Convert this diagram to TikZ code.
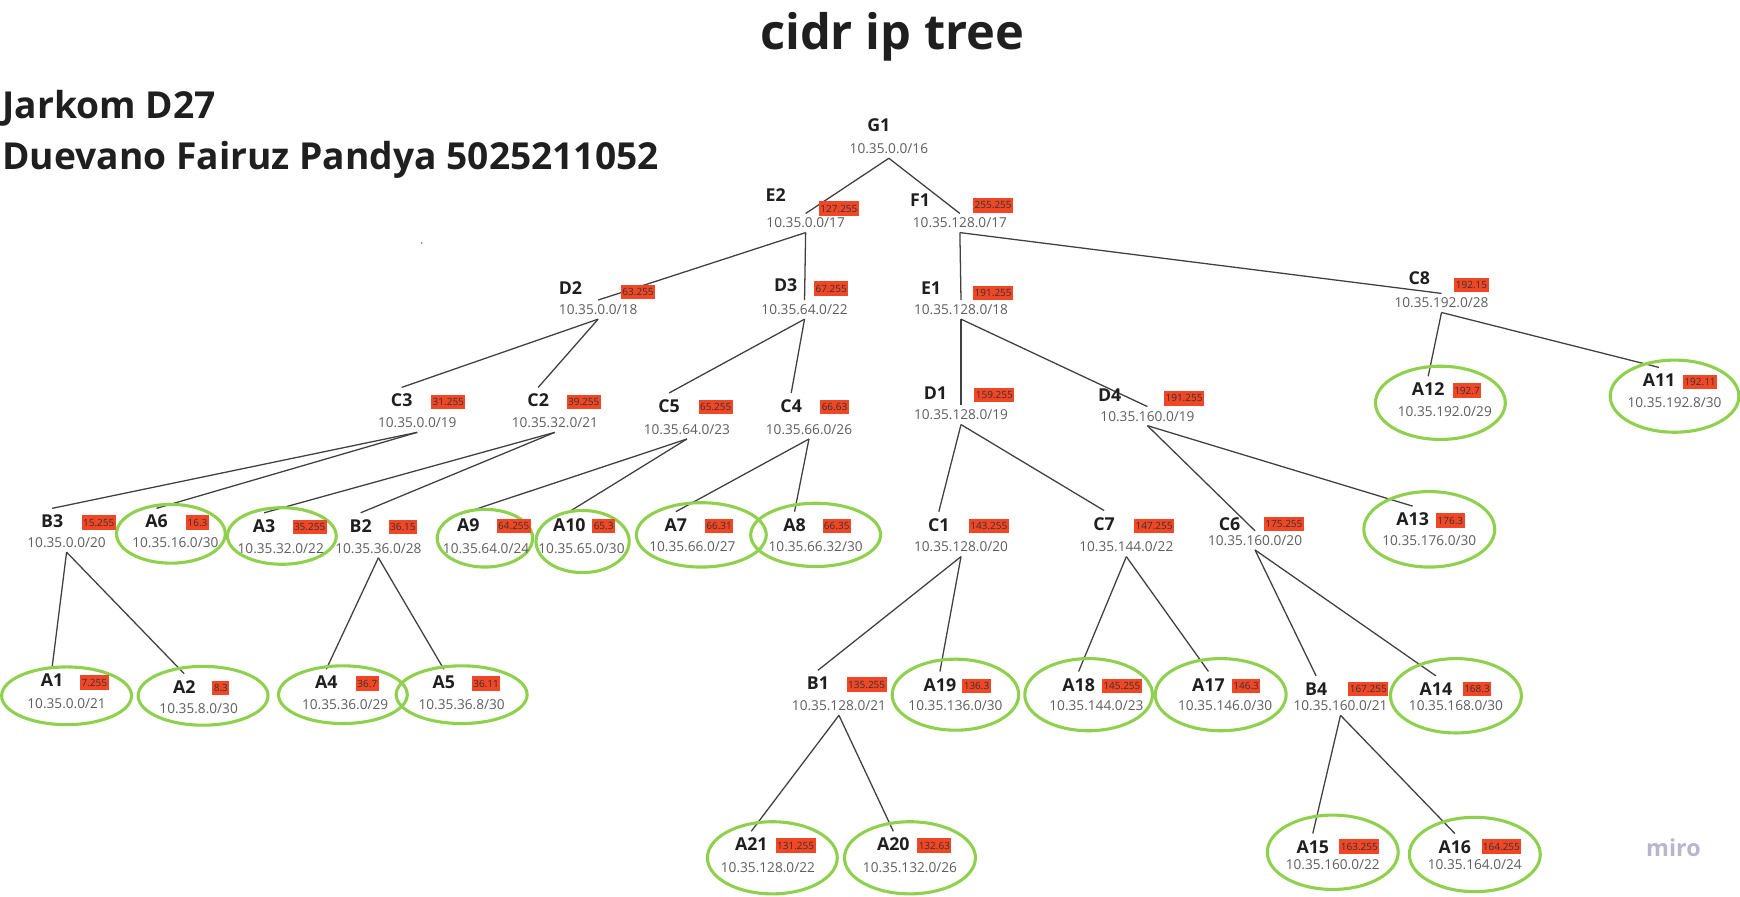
\documentclass[tikz,border=0pt]{standalone}
\usepackage{fontspec}
\setmainfont{Open Sans}
\usetikzlibrary{shapes.geometric}
\definecolor{nmcol}{HTML}{1F1F1F}
\definecolor{ipcol}{HTML}{5E5E5E}
\definecolor{redbox}{HTML}{F24726}
\definecolor{leafgreen}{HTML}{8FD14F}
\definecolor{edgecol}{HTML}{404040}
\definecolor{mirocol}{HTML}{B8B6CC}
\definecolor{dotblue}{HTML}{4262FF}
\pgfdeclarelayer{bg}
\pgfdeclarelayer{edges}
\pgfsetlayers{bg,edges,main}
\tikzset{
  nm/.style={font=\fontsize{16}{16}\selectfont\bfseries, text=nmcol, inner xsep=1pt, inner ysep=6pt, text height=11.4pt, text depth=0pt},
  ipt/.style={font=\fontsize{12.3}{13}\selectfont, text=ipcol, inner xsep=1pt, inner ysep=4pt, text height=8.8pt, text depth=0pt},
  rb/.style={fill=redbox, font=\fontsize{9}{9}\selectfont, text=black!80, inner xsep=1.3pt, inner ysep=0pt, minimum height=13pt, text height=6.5pt, text depth=0pt},
  leaf/.style={ellipse, draw=leafgreen, line width=2.8pt, inner sep=0pt},
  link/.style={draw=edgecol, line width=1.15pt},
  ttl/.style={font=\fontsize{44}{44}\selectfont\bfseries, text=nmcol, inner sep=0pt},
  sub/.style={font=\fontsize{33.5}{34}\selectfont\bfseries, text=nmcol, inner sep=0pt, anchor=west}
}
\begin{document}
\begin{tikzpicture}[x=1pt,y=-1pt]
\useasboundingbox (0,0) rectangle (1568,808.3);
\begin{pgfonlayer}{bg}
\fill[white] (0,0) rectangle (1568,808.3);
\end{pgfonlayer}

% titles
\node[ttl] (title) at (804,33) {cidr ip tree};
\node[sub] (jarkom) at (2,98) {Jarkom D27};
\node[sub] (author) at (2,144) {Duevano Fairuz Pandya 5025211052};
\fill[dotblue] (380,219) circle (0.8);

% leaf ellipses
\node[leaf, minimum width=98pt, minimum height=53pt] (A6e) at (154,481) {};
\node[leaf, minimum width=98pt, minimum height=51pt] (A3e) at (254,483) {};
\node[leaf, minimum width=86pt, minimum height=52pt] (A9e) at (437,485) {};
\node[leaf, minimum width=84pt, minimum height=56pt] (A10e) at (525,488) {};
\node[leaf, minimum width=117pt, minimum height=58pt] (A7e) at (632,482) {};
\node[leaf, minimum width=117pt, minimum height=57pt] (A8e) at (735,482) {};
\node[leaf, minimum width=117pt, minimum height=66pt] (A12e) at (1298,363) {};
\node[leaf, minimum width=116pt, minimum height=65pt] (A11e) at (1509,357) {};
\node[leaf, minimum width=118pt, minimum height=68pt] (A13e) at (1288,477) {};
\node[leaf, minimum width=117pt, minimum height=52pt] (A1e) at (60,627) {};
\node[leaf, minimum width=117pt, minimum height=53pt] (A2e) at (183,627) {};
\node[leaf, minimum width=116pt, minimum height=52pt] (A4e) at (309,626) {};
\node[leaf, minimum width=118pt, minimum height=52pt] (A5e) at (416,626) {};
\node[leaf, minimum width=114pt, minimum height=64pt] (A19e) at (861,626) {};
\node[leaf, minimum width=115pt, minimum height=65pt] (A18e) at (981,626) {};
\node[leaf, minimum width=118pt, minimum height=65pt] (A17e) at (1100,626) {};
\node[leaf, minimum width=118pt, minimum height=67pt] (A14e) at (1312,627) {};
\node[leaf, minimum width=117pt, minimum height=65pt] (A21e) at (696,773) {};
\node[leaf, minimum width=118pt, minimum height=65pt] (A20e) at (820,773) {};
\node[leaf, minimum width=118pt, minimum height=67pt] (A15e) at (1201,768) {};
\node[leaf, minimum width=118pt, minimum height=67pt] (A16e) at (1329,770) {};

% internal nodes
\node[nm] (G1) at (792,113) {G1};
\node[ipt] (G1i) at (801,134) {10.35.0.0/16};

\node[nm] (E2) at (699,176) {E2};
\node[rb] (E2r) at (756,188) {127.255};
\node[ipt] (E2i) at (726,201) {10.35.0.0/17};

\node[nm] (F1) at (829,180) {F1};
\node[rb] (F1r) at (895,185) {255.255};
\node[ipt] (F1i) at (865,201) {10.35.128.0/17};

\node[nm] (D2) at (514,260) {D2};
\node[rb] (D2r) at (575,263) {63.255};
\node[ipt] (D2i) at (539,279) {10.35.0.0/18};

\node[nm] (D3) at (708,257) {D3};
\node[rb] (D3r) at (749,260) {67.255};
\node[ipt] (D3i) at (725,279) {10.35.64.0/22};

\node[nm] (E1) at (839,260) {E1};
\node[rb] (E1r) at (895,264) {191.255};
\node[ipt] (E1i) at (866,279) {10.35.128.0/18};

\node[nm] (C8) at (1279,251) {C8};
\node[rb] (C8r) at (1326,257) {192.15};
\node[ipt] (C8i) at (1299,273) {10.35.192.0/28};

\node[nm] (C3) at (362,361) {C3};
\node[rb] (C3r) at (404,362) {31.255};
\node[ipt] (C3i) at (376,381) {10.35.0.0/19};

\node[nm] (C2) at (485,361) {C2};
\node[rb] (C2r) at (526,362) {39.255};
\node[ipt] (C2i) at (500,381) {10.35.32.0/21};

\node[nm] (C5) at (603,366) {C5};
\node[rb] (C5r) at (645,367) {65.255};
\node[ipt] (C5i) at (619,387) {10.35.64.0/23};

\node[nm] (C4) at (713,366) {C4};
\node[rb] (C4r) at (752,367) {66.63};
\node[ipt] (C4i) at (729,387) {10.35.66.0/26};

\node[nm] (D1) at (843,354) {D1};
\node[rb] (D1r) at (896,356) {159.255};
\node[ipt] (D1i) at (866,374) {10.35.128.0/19};

\node[nm] (D4) at (1000,356) {D4};
\node[rb] (D4r) at (1067,359) {191.255};
\node[ipt] (D4i) at (1034,375) {10.35.160.0/19};

\node[nm] (B3) at (47,470) {B3};
\node[rb] (B3r) at (89,471) {15.255};
\node[ipt] (B3i) at (60,489) {10.35.0.0/20};

\node[nm] (B2) at (325,474) {B2};
\node[rb] (B2r) at (363,475) {36.15};
\node[ipt] (B2i) at (341,494) {10.35.36.0/28};

\node[nm] (C1) at (846,473) {C1};
\node[rb] (C1r) at (891,474) {143.255};
\node[ipt] (C1i) at (866,493) {10.35.128.0/20};

\node[nm] (C7) at (995,472) {C7};
\node[rb] (C7r) at (1040,474) {147.255};
\node[ipt] (C7i) at (1015,493) {10.35.144.0/22};

\node[nm] (C6) at (1108,472) {C6};
\node[rb] (C6r) at (1157,472) {175.255};
\node[ipt] (C6i) at (1131,487) {10.35.160.0/20};

\node[nm] (B1) at (737,616) {B1};
\node[rb] (B1r) at (781,617) {135.255};
\node[ipt] (B1i) at (756,636) {10.35.128.0/21};

\node[nm] (B4) at (1186,621) {B4};
\node[rb] (B4r) at (1233,621) {167.255};
\node[ipt] (B4i) at (1208,636) {10.35.160.0/21};

% leaf texts
\node[nm] (A6) at (141,470) {A6};
\node[rb] (A6r) at (178,471) {16.3};
\node[ipt] (A6i) at (158,489) {10.35.16.0/30};

\node[nm] (A3) at (238,474) {A3};
\node[rb] (A3r) at (279,475) {35.255};
\node[ipt] (A3i) at (253,494) {10.35.32.0/22};

\node[nm] (A9) at (422,473) {A9};
\node[rb] (A9r) at (463,474) {64.255};
\node[ipt] (A9i) at (438,494) {10.35.64.0/24};

\node[nm] (A10) at (513,473) {A10};
\node[rb] (A10r) at (544,474) {65.3};
\node[ipt] (A10i) at (524,494) {10.35.65.0/30};

\node[nm] (A7) at (609,473) {A7};
\node[rb] (A7r) at (648,474) {66.31};
\node[ipt] (A7i) at (624,493) {10.35.66.0/27};

\node[nm] (A8) at (716,473) {A8};
\node[rb] (A8r) at (754,474) {66.35};
\node[ipt] (A8i) at (735,493) {10.35.66.32/30};

\node[nm] (A12) at (1287,351) {A12};
\node[rb] (A12r) at (1322,352) {192.7};
\node[ipt] (A12i) at (1302,371) {10.35.192.0/29};

\node[nm] (A11) at (1495,343) {A11};
\node[rb] (A11r) at (1532,344) {192.11};
\node[ipt] (A11i) at (1509,363) {10.35.192.8/30};

\node[nm] (A13) at (1273,468) {A13};
\node[rb] (A13r) at (1307,469) {176.3};
\node[ipt] (A13i) at (1288,487) {10.35.176.0/30};

\node[nm] (A1) at (47,613) {A1};
\node[rb] (A1r) at (85,615) {7.255};
\node[ipt] (A1i) at (60,634) {10.35.0.0/21};

\node[nm] (A2) at (166,619) {A2};
\node[rb] (A2r) at (199,620) {8.3};
\node[ipt] (A2i) at (179,639) {10.35.8.0/30};

\node[nm] (A4) at (294,615) {A4};
\node[rb] (A4r) at (331,616) {36.7};
\node[ipt] (A4i) at (311,635) {10.35.36.0/29};

\node[nm] (A5) at (400,615) {A5};
\node[rb] (A5r) at (438,616) {36.11};
\node[ipt] (A5i) at (416,635) {10.35.36.8/30};

\node[nm] (A19) at (847,617) {A19};
\node[rb] (A19r) at (880,618) {136.3};
\node[ipt] (A19i) at (861,636) {10.35.136.0/30};

\node[nm] (A18) at (972,617) {A18};
\node[rb] (A18r) at (1011,618) {145.255};
\node[ipt] (A18i) at (988,636) {10.35.144.0/23};

\node[nm] (A17) at (1089,617) {A17};
\node[rb] (A17r) at (1123,618) {146.3};
\node[ipt] (A17i) at (1104,636) {10.35.146.0/30};

\node[nm] (A14) at (1294,621) {A14};
\node[rb] (A14r) at (1331,621) {168.3};
\node[ipt] (A14i) at (1312,636) {10.35.168.0/30};

\node[nm] (A21) at (677,761) {A21};
\node[rb] (A21r) at (717,762) {131.255};
\node[ipt] (A21i) at (692,782) {10.35.128.0/22};

\node[nm] (A20) at (805,761) {A20};
\node[rb] (A20r) at (842,762) {132.63};
\node[ipt] (A20i) at (820,782) {10.35.132.0/26};

\node[nm] (A15) at (1183,763) {A15};
\node[rb] (A15r) at (1225,763) {163.255};
\node[ipt] (A15i) at (1201,779) {10.35.160.0/22};

\node[nm] (A16) at (1311,763) {A16};
\node[rb] (A16r) at (1353,763) {164.255};
\node[ipt] (A16i) at (1329,779) {10.35.164.0/24};

% connectors (behind the labels)
\begin{pgfonlayer}{edges}
\draw[link] (G1i.south) -- (E2i.north);
\draw[link] (G1i.south) -- (F1i.north);
\draw[link] (E2i.south) -- (D2i.north);
\draw[link] (E2i.south) -- (D3i.north);
\draw[link] (F1i.south) -- (E1i.north);
\draw[link] (F1i.south) -- (C8i.north);
\draw[link] (D2i.south) -- (C3.north);
\draw[link] (D2i.south) -- (C2.north);
\draw[link] (D3i.south) -- (C5.north);
\draw[link] (D3i.south) -- (C4.north);
\draw[link] (E1i.south) -- (D1i.north);
\draw[link] (E1i.south) -- (D4i.north);
\draw[link] (C8i.south) -- (A12.north);
\draw[link] (C8i.south) -- (A11.north);
\draw[link] (C3i.south) -- (B3.north);
\draw[link] (C3i.south) -- (A6.north);
\draw[link] (C2i.south) -- (A3.north);
\draw[link] (C2i.south) -- (B2.north);
\draw[link] (C5i.south) -- (A9.north);
\draw[link] (C5i.south) -- (A10.north);
\draw[link] (C4i.south) -- (A7.north);
\draw[link] (C4i.south) -- (A8.north);
\draw[link] (D1i.south) -- (C1.north);
\draw[link] (D1i.south) -- (C7.north);
\draw[link] (D4i.south) -- (C6i.north);
\draw[link] (D4i.south) -- (A13.north);
\draw[link] (B3i.south) -- (A1.north);
\draw[link] (B3i.south) -- (A2.north);
\draw[link] (B2i.south) -- (A4.north);
\draw[link] (B2i.south) -- (A5.north);
\draw[link] (C1i.south) -- (B1.north);
\draw[link] (C1i.south) -- (A19.north);
\draw[link] (C7i.south) -- (A18.north);
\draw[link] (C7i.south) -- (A17.north);
\draw[link] (C6i.south) -- (B4.north);
\draw[link] (C6i.south) -- (A14.north);
\draw[link] (B1i.south) -- (A21.north);
\draw[link] (B1i.south) -- (A20.north);
\draw[link] (B4i.south) -- (A15.north);
\draw[link] (B4i.south) -- (A16.north);
\end{pgfonlayer}

% watermark
\node[font=\fontsize{21}{21}\selectfont\bfseries, text=mirocol, inner sep=0pt] (miro) at (1508,764) {miro};
\end{tikzpicture}
\end{document}
